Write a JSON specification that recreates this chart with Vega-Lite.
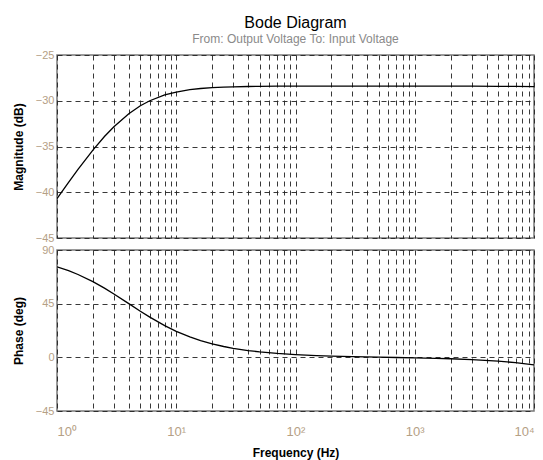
{
  "$schema": "https://vega.github.io/schema/vega-lite/v6.json",
  "padding": {"left": 11, "top": 15, "right": 5, "bottom": 2},
  "background": "white",
  "title": {
    "text": "Bode Diagram",
    "subtitle": "From: Output Voltage  To: Input Voltage",
    "anchor": "middle",
    "frame": "group",
    "font": "Liberation Sans",
    "fontSize": 16,
    "fontWeight": "normal",
    "color": "#000000",
    "subtitleFont": "Liberation Sans",
    "subtitleFontSize": 12,
    "subtitleColor": "#8a8a8a",
    "subtitlePadding": 3,
    "offset": 3
  },
  "data": {
    "values": [
      {"f": 1, "mag": -40.70, "phase": 75.96},
      {"f": 1.25, "mag": -38.91, "phase": 72.65},
      {"f": 1.5, "mag": -37.49, "phase": 69.44},
      {"f": 2, "mag": -35.39, "phase": 63.43},
      {"f": 2.5, "mag": -33.91, "phase": 57.99},
      {"f": 3, "mag": -32.84, "phase": 53.13},
      {"f": 4, "mag": -31.41, "phase": 45.0},
      {"f": 5, "mag": -30.55, "phase": 38.66},
      {"f": 6, "mag": -30.00, "phase": 33.69},
      {"f": 8, "mag": -29.37, "phase": 26.57},
      {"f": 10, "mag": -29.05, "phase": 21.80},
      {"f": 13, "mag": -28.79, "phase": 17.10},
      {"f": 16, "mag": -28.66, "phase": 14.04},
      {"f": 20, "mag": -28.57, "phase": 11.31},
      {"f": 25, "mag": -28.51, "phase": 9.09},
      {"f": 30, "mag": -28.48, "phase": 7.59},
      {"f": 40, "mag": -28.44, "phase": 5.71},
      {"f": 50, "mag": -28.43, "phase": 4.57},
      {"f": 70, "mag": -28.41, "phase": 3.27},
      {"f": 100, "mag": -28.41, "phase": 2.29},
      {"f": 150, "mag": -28.40, "phase": 1.43},
      {"f": 200, "mag": -28.40, "phase": 1.02},
      {"f": 300, "mag": -28.40, "phase": 0.57},
      {"f": 500, "mag": -28.40, "phase": 0.14},
      {"f": 700, "mag": -28.40, "phase": -0.12},
      {"f": 1000, "mag": -28.40, "phase": -0.42},
      {"f": 1500, "mag": -28.40, "phase": -0.81},
      {"f": 2000, "mag": -28.40, "phase": -1.17},
      {"f": 3000, "mag": -28.41, "phase": -1.85},
      {"f": 5000, "mag": -28.42, "phase": -3.17},
      {"f": 7000, "mag": -28.43, "phase": -4.46},
      {"f": 10000, "mag": -28.45, "phase": -6.39}
    ]
  },
  "spacing": -1,
  "config": {
    "view": {"stroke": "#7a7a7a", "strokeWidth": 1.5},
    "axis": {
      "grid": true,
      "gridColor": "#222222",
      "gridDash": [5, 4],
      "gridWidth": 1,
      "gridOpacity": 0.9,
      "domain": false,
      "ticks": false,
      "labelFont": "Liberation Sans",
      "labelFontSize": 11,
      "labelColor": "#b5a085",
      "titleFont": "Liberation Sans",
      "titleFontSize": 12,
      "titleFontWeight": "bold",
      "titleColor": "#000000"
    }
  },
  "vconcat": [
    {
      "width": 477,
      "height": 183,
      "mark": {"type": "line", "color": "#000000", "strokeWidth": 1.3, "clip": true},
      "encoding": {
        "x": {
          "field": "f", "type": "quantitative",
          "scale": {"type": "log", "domain": [1, 10000], "nice": false},
          "axis": {
            "title": null, "labels": false, "minExtent": 0, "maxExtent": 0, "labelPadding": 0, "offset": 0,
            "values": [1,2,3,4,5,6,7,8,9,10,20,30,40,50,60,70,80,90,100,200,300,400,500,600,700,800,900,1000,2000,3000,4000,5000,6000,7000,8000,9000,10000]
          }
        },
        "y": {
          "field": "mag", "type": "quantitative",
          "scale": {"domain": [-45, -25], "nice": false, "zero": false},
          "axis": {"title": "Magnitude (dB)", "values": [-45, -40, -35, -30, -25], "labelPadding": 3, "titlePadding": 10}
        }
      }
    },
    {
      "width": 477,
      "height": 161,
      "mark": {"type": "line", "color": "#000000", "strokeWidth": 1.3, "clip": true},
      "encoding": {
        "x": {
          "field": "f", "type": "quantitative",
          "scale": {"type": "log", "domain": [1, 10000], "nice": false},
          "axis": {
            "title": "Frequency  (Hz)",
            "titlePadding": 9,
            "labelPadding": 14,
            "labelFontSize": 13,
            "values": [1,2,3,4,5,6,7,8,9,10,20,30,40,50,60,70,80,90,100,200,300,400,500,600,700,800,900,1000,2000,3000,4000,5000,6000,7000,8000,9000,10000],
            "labelExpr": "datum.value == 1 ? '10⁰' : datum.value == 10 ? '10¹' : datum.value == 100 ? '10²' : datum.value == 1000 ? '10³' : datum.value == 10000 ? '10⁴' : ''"
          }
        },
        "y": {
          "field": "phase", "type": "quantitative",
          "scale": {"domain": [-45, 90], "nice": false, "zero": false},
          "axis": {"title": "Phase (deg)", "values": [-45, 0, 45, 90], "labelPadding": 3, "titlePadding": 10}
        }
      }
    }
  ]
}
